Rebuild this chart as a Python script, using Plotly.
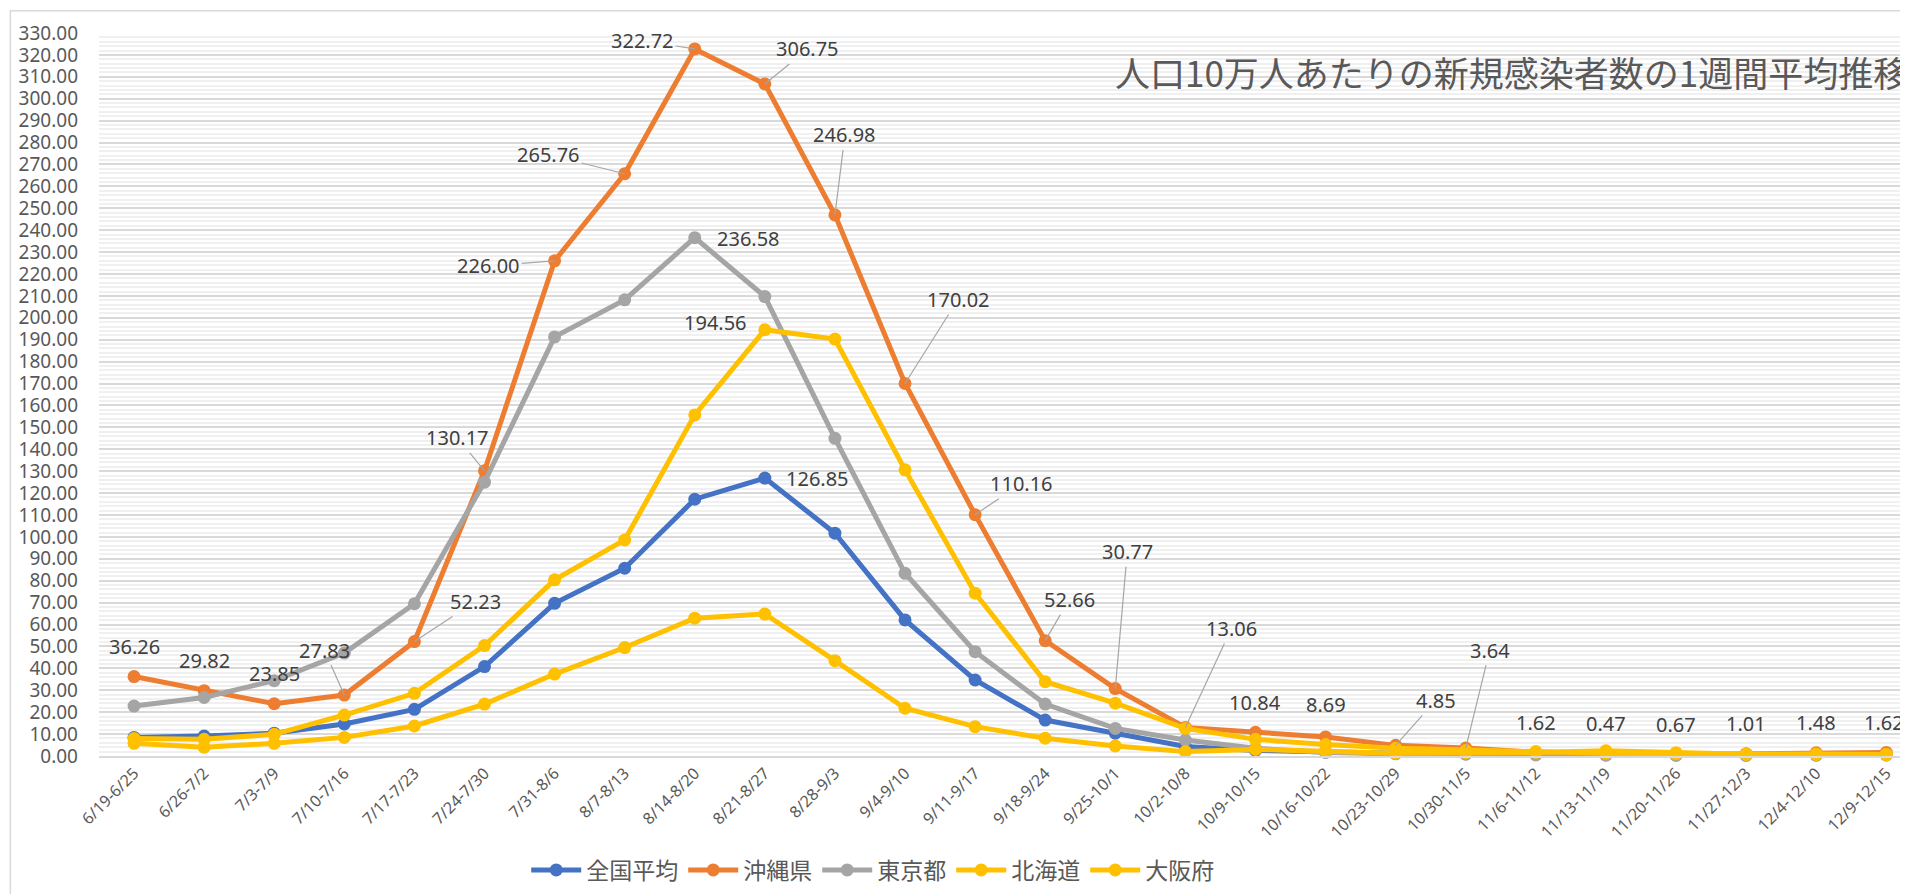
import plotly.graph_objects as go

categories = ["6/19-6/25", "6/26-7/2", "7/3-7/9", "7/10-7/16", "7/17-7/23", "7/24-7/30",
              "7/31-8/6", "8/7-8/13", "8/14-8/20", "8/21-8/27", "8/28-9/3", "9/4-9/10",
              "9/11-9/17", "9/18-9/24", "9/25-10/1", "10/2-10/8", "10/9-10/15", "10/16-10/22",
              "10/23-10/29", "10/30-11/5", "11/6-11/12", "11/13-11/19", "11/20-11/26",
              "11/27-12/3", "12/4-12/10", "12/9-12/15"]

national = [8.5, 9.1, 10.4, 14.6, 21.3, 40.8, 69.7, 85.7, 117.2, 126.85, 101.7, 62.1, 34.7,
            16.4, 10.4, 4.3, 2.5, 1.8, 1.3, 1.0, 0.8, 0.6, 0.5, 0.4, 0.4, 0.5]
okinawa = [36.26, 29.82, 23.85, 27.83, 52.23, 130.17, 226.00, 265.76, 322.72, 306.75, 246.98,
           170.02, 110.16, 52.66, 30.77, 13.06, 10.84, 8.69, 4.85, 3.64, 1.62, 0.47, 0.67,
           1.01, 1.48, 1.62]
tokyo = [22.8, 26.7, 34.4, 47.0, 69.5, 125.0, 191.3, 208.2, 236.58, 209.7, 145.0, 83.4, 47.6,
         23.7, 12.6, 7.3, 3.5, 1.6, 1.0, 0.8, 0.5, 0.4, 0.3, 0.3, 0.5, 0.6]
hokkaido = [5.8, 4.0, 5.8, 8.5, 13.7, 23.7, 37.4, 49.5, 62.9, 64.8, 43.5, 21.8, 13.4, 8.1,
            4.6, 2.0, 3.0, 2.2, 1.3, 1.5, 1.6, 2.4, 1.5, 0.8, 0.9, 0.7]
osaka = [8.0, 7.6, 9.9, 18.7, 28.6, 50.4, 80.4, 98.6, 155.7, 194.56, 190.3, 130.6, 74.3, 33.9,
         24.1, 12.6, 7.6, 5.2, 3.5, 2.5, 2.0, 1.2, 1.0, 0.8, 0.7, 0.6]

series_names = ["全国平均", "沖縄県", "東京都", "北海道", "大阪府"]
series_values = [national, okinawa, tokyo, hokkaido, osaka]
series_colors = ["#4472C4", "#ED7D31", "#A5A5A5", "#FFC000", "#FFC000"]

title_text = "人口10万人あたりの新規感染者数の1週間平均推移"

# label placement: (series index, category index, dx px, dy px (down +), leader line)
label_specs = [
    (1, 0, 0, -30, False), (1, 1, 0, -30, False), (1, 2, 0, -30, False),
    (1, 3, -20, -45, True), (1, 4, 61, -40, True), (1, 5, -27, -33, True),
    (1, 6, -66, 5, True), (1, 7, -76, -19, True), (1, 8, -52, -8, True),
    (1, 9, 43, -35, True), (1, 10, 10, -80, True), (1, 11, 53, -84, True),
    (1, 12, 46, -31, True), (1, 13, 24, -41, True), (1, 14, 12, -137, True),
    (1, 15, 46, -99, True), (1, 16, 0, -30, False), (1, 17, 0, -32, False),
    (1, 18, 40, -45, True), (1, 19, 24, -98, True),
    (1, 20, 0, -30, False), (1, 21, 0, -31, False), (1, 22, 0, -30, False),
    (1, 23, 0, -30, False), (1, 24, 0, -30, False), (1, 25, -2, -30, False),
    (2, 8, 54, 1, False), (4, 9, -49, -7, False), (0, 9, 53, 0, False),
]

NUM_FONT = "Noto Sans, Noto Sans CJK JP, sans-serif"
JP_FONT = "Noto Sans CJK JP, Noto Sans, sans-serif"

fig = go.Figure()
for name, vals, col in zip(series_names, series_values, series_colors):
    fig.add_trace(go.Scatter(
        x=categories, y=vals, name=name, mode="lines+markers",
        line=dict(color=col, width=5),
        marker=dict(color=col, size=13),
        cliponaxis=False,
    ))

annotations = []
for si, ci, dx, dy, leader in label_specs:
    v = series_values[si][ci]
    base = dict(x=categories[ci], y=v, xref="x", yref="y", text=f"{v:.2f}",
                font=dict(family=NUM_FONT, size=20, color="#404040"))
    if leader:
        base.update(showarrow=True, ax=dx, ay=dy, arrowhead=0, arrowwidth=1.2,
                    arrowcolor="#A6A6A6", standoff=0, startstandoff=0)
    else:
        base.update(showarrow=False, xshift=dx, yshift=-dy)
    annotations.append(base)

annotations.append(dict(
    text=title_text, xref="paper", yref="paper", x=0.5606, y=0.947,
    xanchor="left", yanchor="middle", showarrow=False,
    font=dict(family=JP_FONT, size=35, color="#595959"),
))

fig.update_layout(
    width=1900, height=886,
    margin=dict(l=90.7, r=0, t=25.3, b=138, autoexpand=False),
    paper_bgcolor="white", plot_bgcolor="white",
    showlegend=True,
    legend=dict(orientation="h", x=0.4277, y=-0.1577, xanchor="center", yanchor="middle",
                font=dict(family=JP_FONT, size=23, color="#595959"),
                itemwidth=50, bgcolor="rgba(0,0,0,0)"),
    annotations=annotations,
    shapes=[dict(type="rect", xref="paper", yref="paper", x0=-0.049, x1=1.2,
                 y0=-0.4, y1=1.0309, line=dict(color="#D9D9D9", width=1.5),
                 fillcolor="rgba(0,0,0,0)", layer="below")],
)

fig.update_xaxes(
    type="category", range=[-0.5, 25.31], tickangle=-45,
    tickfont=dict(family=NUM_FONT, size=16, color="#595959"),
    showgrid=False, showline=True, linecolor="#D9D9D9", linewidth=1.5,
    ticks="", zeroline=False,
)
fig.update_yaxes(
    range=[0, 330], dtick=10, tickformat=".2f",
    tickfont=dict(family=NUM_FONT, size=19, color="#595959"),
    showgrid=True, gridcolor="#D9D9D9", gridwidth=1.5,
    minor=dict(dtick=2, showgrid=True, gridcolor="#F0F0F0", gridwidth=1.5),
    zeroline=False, showline=False, ticks="", ticklabelstandoff=20,
)

fig.write_html("out.html")
